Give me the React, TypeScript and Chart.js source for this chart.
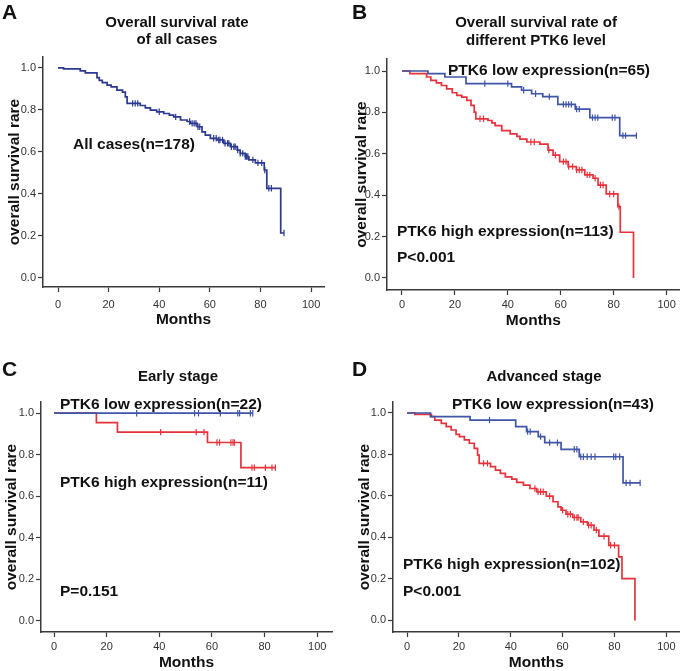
import React, { useEffect, useRef } from "react";
import { Chart, registerables } from "chart.js";

Chart.register(...registerables);

const FONT = '"Liberation Sans", Arial, Helvetica, sans-serif';

const xTicks = [0, 20, 40, 60, 80, 100];
const yTicks = [0, 0.2, 0.4, 0.6, 0.8, 1.0];

// ---- Panel A: all cases ----
const allTimes = [0, 2.2, 8.8, 10.8, 15.4, 16.3, 17.5, 19.4, 21, 23.3, 25.5, 26.6, 27.3, 32.5, 34.5, 36.5, 39, 41.8, 44, 45.7, 48.4, 51, 52.3, 55, 56.9, 58.2, 60.2, 62.8, 65.5, 68.1, 70.8, 72, 74, 75.4, 78, 81.5, 82.5, 88];
const allSurv = [1.0, 0.995, 0.986, 0.976, 0.954, 0.941, 0.93, 0.918, 0.91, 0.894, 0.885, 0.862, 0.831, 0.821, 0.81, 0.799, 0.791, 0.783, 0.775, 0.767, 0.752, 0.745, 0.736, 0.72, 0.696, 0.68, 0.665, 0.657, 0.641, 0.625, 0.609, 0.593, 0.578, 0.562, 0.548, 0.514, 0.427, 0.214];
const allCensor = [29.5, 30.5, 31.5, 40, 46.5, 52, 53, 53.8, 54.5, 55.3, 56, 61.5, 62.5, 63.5, 64, 65, 66, 67, 67.5, 68.5, 69.5, 70, 71, 72, 73, 74, 74.5, 75, 77, 79, 80.5, 81.7, 83.3, 84.3, 89.3];
const allEnd = 89.3;

// ---- Panel B: PTK6 low / high ----
const bLowTimes = [0, 9.8, 16.2, 24.2, 41.4, 45.2, 49, 53.2, 58.9, 65.5, 71, 82.3];
const bLowSurv = [1.0, 0.987, 0.971, 0.939, 0.923, 0.907, 0.89, 0.876, 0.839, 0.816, 0.775, 0.688];
const bLowCensor = [31.3, 40, 46, 50.5, 55.7, 61, 62, 63, 64, 66, 67, 72, 73, 74, 79.5, 80.5, 83.5, 84.5, 88.6];
const bLowEnd = 88.6;

const bHighTimes = [0, 3, 9.3, 10.9, 13, 14.9, 16.9, 19, 20.7, 22.6, 24.5, 26.1, 27.3, 27.9, 32.5, 34, 35.2, 37.7, 40.9, 43.4, 44.6, 47.2, 52.1, 55.2, 57.1, 59.6, 62.8, 65.9, 69.1, 72.2, 74.1, 77.2, 81.6, 82.5, 87.5];
const bHighSurv = [1.0, 0.987, 0.971, 0.955, 0.943, 0.93, 0.914, 0.895, 0.882, 0.874, 0.858, 0.834, 0.801, 0.769, 0.761, 0.749, 0.736, 0.712, 0.696, 0.684, 0.671, 0.657, 0.647, 0.618, 0.594, 0.562, 0.538, 0.522, 0.498, 0.482, 0.449, 0.406, 0.345, 0.221, 0.0];
const bHighCensor = [29.5, 30.8, 48.7, 50, 55.5, 58, 61, 62, 63, 64.5, 66, 67, 68, 70, 71, 73, 75, 76, 78.5, 80, 82];
const bHighEnd = 87.5;

// ---- Panel C: early stage ----
const cLowTimes = [0];
const cLowSurv = [1.0];
const cLowCensor = [31.4, 53.4, 54.9, 63.2, 69.8, 70.5, 74.6, 75.5];
const cLowEnd = 75.5;

const cHighTimes = [0, 16.1, 24.1, 58.3, 71];
const cHighSurv = [1.0, 0.955, 0.909, 0.859, 0.738];
const cHighCensor = [40.5, 54, 57, 61.9, 62.9, 67.2, 68, 68.5, 75.2, 76.1, 80.3, 82.8, 84.1];
const cHighEnd = 84.1;

// ---- Panel D: advanced stage ----
const dLowTimes = [0, 9, 24.3, 41.9, 46.1, 50.6, 53.1, 59.4, 66.4, 83.3];
const dLowSurv = [1.0, 0.982, 0.966, 0.934, 0.91, 0.886, 0.857, 0.825, 0.789, 0.663];
const dLowCensor = [31.8, 46.5, 47.5, 51.5, 55, 58, 64.5, 65.5, 67, 68, 69.5, 71, 72.5, 79.7, 80.5, 82, 84.5, 86, 89.9];
const dLowEnd = 89.9;

const dHighTimes = [0, 3, 9.4, 10.7, 13.2, 15.1, 17, 18.9, 20.2, 22.1, 24, 25.9, 27.2, 27.8, 32.2, 34.1, 36, 37.9, 40.4, 42.3, 44.9, 47.4, 50, 53.7, 56.3, 58.2, 59.4, 61.3, 63.9, 67, 69.6, 72.1, 74, 77.8, 81.6, 82.9, 87.9];
const dHighSurv = [1.0, 0.993, 0.982, 0.966, 0.95, 0.934, 0.918, 0.897, 0.886, 0.87, 0.854, 0.829, 0.797, 0.757, 0.741, 0.725, 0.709, 0.692, 0.681, 0.665, 0.652, 0.636, 0.62, 0.599, 0.572, 0.547, 0.531, 0.512, 0.496, 0.475, 0.459, 0.435, 0.406, 0.362, 0.306, 0.201, 0.0];
const dHighCensor = [29.5, 31, 49.3, 50.5, 51.5, 52.5, 55, 60, 62, 63, 64.5, 65.5, 66, 68, 70, 71, 73, 76, 78.5, 80];
const dHighEnd = 87.9;

const NAVY = "#2b3990";
const BLUE = "#3f55a6";
const RED = "#e8323b";

type Series = { times: number[]; surv: number[]; censor: number[]; end: number; color: string; label: string };
type TextItem = { text: string; x: number; y: number; size: number; align?: CanvasTextAlign };
type Panel = {
  key: string; left: number; top: number; w: number; h: number;
  axisL: number; axisR: number; axisT: number; axisB: number; yTitleX: number;
  xTickPad: number; xScaleH: number;
  xMin: number; xMax: number; yMin: number; yMax: number;
  series: Series[]; texts: TextItem[];
};

function survAt(times: number[], surv: number[], t: number) {
  let s = surv[0];
  for (let i = 0; i < times.length; i++) if (times[i] <= t) s = surv[i];
  return s;
}

const panels: Panel[] = [
  {
    key: "A", left: 0, top: 0, w: 342, h: 335,
    axisL: 43, axisR: 324, axisT: 57, axisB: 287, yTitleX: 15, xTickPad: 6, xScaleH: 42.5,
    xMin: -5.93, xMax: 105.1, yMin: -0.043, yMax: 1.052,
    series: [{ times: allTimes, surv: allSurv, censor: allCensor, end: allEnd, color: NAVY, label: "All cases" }],
    texts: [
      { text: "A", x: 2, y: 13, size: 21 },
      { text: "Overall survival rate", x: 177, y: 23, size: 15, align: "center" },
      { text: "of all cases", x: 177, y: 40, size: 15, align: "center" },
      { text: "All cases(n=178)", x: 73, y: 145, size: 15.5 },
    ],
  },
  {
    key: "B", left: 342, top: 0, w: 343, h: 335,
    axisL: 45, axisR: 338, axisT: 59, axisB: 290, yTitleX: 20, xTickPad: 3, xScaleH: 40,
    xMin: -5.66, xMax: 105, yMin: -0.058, yMax: 1.058,
    series: [
      { times: bLowTimes, surv: bLowSurv, censor: bLowCensor, end: bLowEnd, color: BLUE, label: "low" },
      { times: bHighTimes, surv: bHighSurv, censor: bHighCensor, end: bHighEnd, color: RED, label: "high" },
    ],
    texts: [
      { text: "B", x: 10, y: 13, size: 21 },
      { text: "Overall survival rate of", x: 194, y: 23, size: 15, align: "center" },
      { text: "different PTK6 level", x: 194, y: 41, size: 15, align: "center" },
      { text: "PTK6 low expression(n=65)", x: 106, y: 71, size: 15.5 },
      { text: "PTK6 high expression(n=113)", x: 55, y: 232, size: 15.5 },
      { text: "P<0.001", x: 55, y: 258, size: 15.5 },
    ],
  },
  {
    key: "C", left: 0, top: 335, w: 342, h: 336,
    axisL: 41, axisR: 332, axisT: 67, axisB: 297, yTitleX: 12, xTickPad: 3, xScaleH: 40,
    xMin: -4.94, xMax: 105.6, yMin: -0.053, yMax: 1.054,
    series: [
      { times: cLowTimes, surv: cLowSurv, censor: cLowCensor, end: cLowEnd, color: BLUE, label: "low" },
      { times: cHighTimes, surv: cHighSurv, censor: cHighCensor, end: cHighEnd, color: RED, label: "high" },
    ],
    texts: [
      { text: "C", x: 2, y: 35, size: 21 },
      { text: "Early stage", x: 178, y: 42, size: 15, align: "center" },
      { text: "PTK6 low expression(n=22)", x: 60, y: 70, size: 15.5 },
      { text: "PTK6 high expression(n=11)", x: 60, y: 148, size: 15.5 },
      { text: "P=0.151", x: 60, y: 257, size: 15.5 },
    ],
  },
  {
    key: "D", left: 342, top: 335, w: 343, h: 336,
    axisL: 51, axisR: 342, axisT: 67, axisB: 297, yTitleX: 22.5, xTickPad: 3, xScaleH: 40,
    xMin: -5.43, xMax: 105.2, yMin: -0.056, yMax: 1.053,
    series: [
      { times: dLowTimes, surv: dLowSurv, censor: dLowCensor, end: dLowEnd, color: BLUE, label: "low" },
      { times: dHighTimes, surv: dHighSurv, censor: dHighCensor, end: dHighEnd, color: RED, label: "high" },
    ],
    texts: [
      { text: "D", x: 10, y: 35, size: 21 },
      { text: "Advanced stage", x: 202, y: 42, size: 15, align: "center" },
      { text: "PTK6 low expression(n=43)", x: 110, y: 70, size: 15.5 },
      { text: "PTK6 high expression(n=102)", x: 61, y: 230, size: 15.5 },
      { text: "P<0.001", x: 61, y: 257, size: 15.5 },
    ],
  },
];

const textPlugin = {
  id: "panelText",
  afterDraw(chart: any, _args: any, opts: any) {
    const ctx = chart.ctx as CanvasRenderingContext2D;
    ctx.save();
    ctx.fillStyle = "#111";
    ctx.textBaseline = "middle";
    for (const t of (opts.items || []) as TextItem[]) {
      ctx.font = `bold ${t.size}px ${FONT}`;
      ctx.textAlign = t.align || "left";
      ctx.fillText(t.text, t.x, t.y);
    }
    ctx.restore();
  },
};

const AXIS_TITLE = 15.5;

function buildConfig(p: Panel): any {
  const half = (AXIS_TITLE * 1.2) / 2;
  const padLeft = p.yTitleX - half;
  const yWidth = p.axisL - padLeft;
  const datasets: any[] = [];
  for (const s of p.series) {
    const pts = s.times.map((t, i) => ({ x: t, y: s.surv[i] }));
    const last = s.times[s.times.length - 1];
    if (s.end > last) pts.push({ x: s.end, y: s.surv[s.surv.length - 1] });
    datasets.push({
      type: "line", label: s.label, data: pts, stepped: true,
      borderColor: s.color, borderWidth: 1.7, pointRadius: 0, fill: false,
    });
    datasets.push({
      type: "scatter", label: s.label + " censored",
      data: s.censor.map((t) => ({ x: t, y: survAt(s.times, s.surv, t) })),
      pointStyle: "line", rotation: 90, radius: 3.2, pointRadius: 3.2,
      borderColor: s.color, backgroundColor: s.color, borderWidth: 1.2,
    });
  }
  const tickFont = { family: FONT, size: 11 };
  return {
    type: "line",
    data: { datasets },
    plugins: [textPlugin],
    options: {
      responsive: false,
      animation: false,
      events: [],
      layout: {
        padding: {
          left: padLeft,
          top: p.axisT,
          right: p.w - p.axisR,
          bottom: p.h - p.axisB - p.xScaleH,
        },
      },
      plugins: {
        legend: { display: false },
        tooltip: { enabled: false },
        title: { display: false },
        panelText: { items: p.texts },
      },
      scales: {
        x: {
          type: "linear",
          min: p.xMin, max: p.xMax,
          afterBuildTicks: (sc: any) => { sc.ticks = xTicks.map((v) => ({ value: v })); },
          afterFit: (sc: any) => { sc.height = p.xScaleH; },
          ticks: { autoSkip: false, maxRotation: 0, padding: p.xTickPad, color: "#333", font: tickFont, callback: (v: any) => String(v) },
          grid: { drawOnChartArea: false, drawTicks: true, tickLength: 5, tickColor: "#3a3a3a", tickWidth: 1.2 },
          border: { display: true, color: "#3a3a3a", width: 1.5 },
          title: { display: true, text: "Months", color: "#111", padding: 0, font: { family: FONT, size: AXIS_TITLE, weight: "bold" } },
        },
        y: {
          type: "linear",
          min: p.yMin, max: p.yMax,
          afterBuildTicks: (sc: any) => { sc.ticks = yTicks.map((v) => ({ value: v })); },
          afterFit: (sc: any) => { sc.width = yWidth; },
          ticks: { autoSkip: false, padding: 2, color: "#333", font: tickFont, callback: (v: any) => Number(v).toFixed(1) },
          grid: { drawOnChartArea: false, drawTicks: true, tickLength: 5, tickColor: "#3a3a3a", tickWidth: 1.2 },
          border: { display: true, color: "#3a3a3a", width: 1.5 },
          title: { display: true, text: "overall survival rare", color: "#111", padding: 0, font: { family: FONT, size: AXIS_TITLE, weight: "bold" } },
        },
      },
    },
  };
}

function PanelChart({ p }: { p: Panel }) {
  const ref = useRef<HTMLCanvasElement | null>(null);
  useEffect(() => {
    if (!ref.current) return;
    const chart = new Chart(ref.current, buildConfig(p));
    return () => chart.destroy();
  }, [p]);
  return (
    <canvas
      ref={ref}
      width={p.w}
      height={p.h}
      style={{ position: "absolute", left: p.left, top: p.top, width: p.w, height: p.h }}
    />
  );
}

export default function App() {
  return (
    <div style={{ position: "absolute", left: 0, top: 0, width: 685, height: 671, background: "#fff", overflow: "hidden" }}>
      {panels.map((p) => (
        <PanelChart key={p.key} p={p} />
      ))}
    </div>
  );
}
